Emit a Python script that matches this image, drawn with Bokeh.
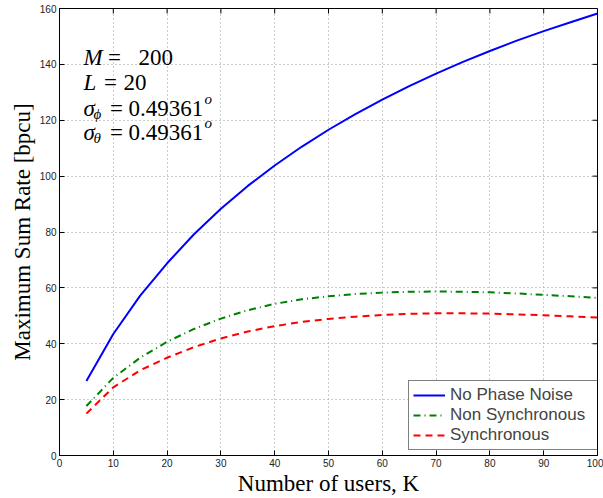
from math import pi
from bokeh.plotting import figure
from bokeh.models import (Label, Legend, LegendItem, FixedTicker,
                          ColumnDataSource, Range1d)
from bokeh.embed import file_html
from bokeh.resources import INLINE

# ---------------- data ----------------
users_k = [5, 10, 15, 20, 25, 30, 35, 40, 45, 50,
           55, 60, 65, 70, 75, 80, 85, 90, 95, 100]
no_phase_noise = [26.7, 43.5, 57.2, 68.8, 79.2, 88.3, 96.5, 103.8, 110.5, 116.6,
                  122.2, 127.4, 132.2, 136.7, 140.9, 144.8, 148.5, 151.9, 155.1, 158.2]
non_synchronous = [17.7, 27.8, 35.0, 40.7, 45.3, 49.0, 52.0, 54.3, 55.9, 57.0,
                   57.8, 58.3, 58.6, 58.7, 58.6, 58.4, 58.0, 57.5, 57.0, 56.4]
synchronous = [15.0, 24.4, 30.5, 35.0, 38.8, 41.9, 44.4, 46.3, 47.8, 48.9,
               49.7, 50.3, 50.7, 50.9, 50.9, 50.8, 50.5, 50.2, 49.8, 49.4]
series_labels = ["No Phase Noise", "Non Synchronous", "Synchronous"]
x_ticks = [0, 10, 20, 30, 40, 50, 60, 70, 80, 90, 100]
y_ticks = [0, 20, 40, 60, 80, 100, 120, 140, 160]
x_title = "Number of users, K"
y_title = "Maximum Sum Rate [bpcu]"

src = ColumnDataSource(dict(k=users_k, a=no_phase_noise, b=non_synchronous, c=synchronous))

FL, FB = 59, 456  # frame left / bottom in canvas px

p = figure(width=603, height=498, x_range=Range1d(0, 100), y_range=Range1d(0, 160),
           output_backend="svg", toolbar_location=None,
           min_border_left=FL, min_border_right=6, min_border_top=8, min_border_bottom=42)
p.background_fill_color = "white"
p.border_fill_color = "white"
p.outline_line_color = "black"

for ax, ticks in ((p.xaxis[0], x_ticks), (p.yaxis[0], y_ticks)):
    ax.ticker = FixedTicker(ticks=ticks)
    ax.major_tick_in = 5
    ax.major_tick_out = 0
    ax.minor_tick_line_color = None
    ax.axis_line_color = "black"
    ax.major_tick_line_color = "black"
    ax.major_label_text_font = "Liberation Sans"
    ax.major_label_text_font_size = "10px"
    ax.major_label_text_color = "#222222"
    ax.major_label_standoff = 3
    ax.axis_label_text_font = "Liberation Serif"
    ax.axis_label_text_font_size = "23px"
    ax.axis_label_text_font_style = "normal"
    ax.axis_label_text_color = "black"

p.xaxis.axis_label = x_title
p.yaxis.axis_label = y_title
p.xaxis.axis_label_standoff = 1
p.yaxis.axis_label_standoff = 2

p.xgrid.ticker = FixedTicker(ticks=x_ticks)
p.ygrid.ticker = FixedTicker(ticks=y_ticks)
for g in (p.xgrid[0], p.ygrid[0]):
    g.grid_line_color = "#9a9a9a"
    g.grid_line_dash = "1 3"
    g.grid_line_width = 1

# tick marks on the right and top edges (half of each dash is clipped by the frame)
p.scatter(x=[x_ticks[-1]] * len(y_ticks), y=y_ticks, marker="dash", size=10,
          line_color="black", line_width=1)
p.scatter(x=x_ticks, y=[y_ticks[-1]] * len(x_ticks), marker="dash", size=10, angle=pi / 2,
          line_color="black", line_width=1)

r1 = p.line("k", "a", source=src, line_color="#0000ff", line_width=2)
r2 = p.line("k", "b", source=src, line_color="#008000", line_width=2, line_dash="7 4 1 4")
r3 = p.line("k", "c", source=src, line_color="#ff0000", line_width=2, line_dash="7 5")

legend = Legend(items=[LegendItem(label=series_labels[0], renderers=[r1]),
                       LegendItem(label=series_labels[1], renderers=[r2]),
                       LegendItem(label=series_labels[2], renderers=[r3])],
                location=(349, 5), border_line_color="black", border_line_width=1,
                background_fill_color="white", background_fill_alpha=1.0,
                label_text_font="Liberation Sans", label_text_font_size="17px",
                glyph_width=32, glyph_height=20, label_height=20, label_width=145,
                spacing=0, padding=4, margin=0, label_standoff=5)
p.add_layout(legend)


def txt(s, px, py, size=23, style="normal", align="left"):
    p.add_layout(Label(x=px - FL, y=FB - py, x_units="screen", y_units="screen",
                       text=s, text_font="Liberation Serif", text_font_size=f"{size}px",
                       text_font_style=style, text_align=align,
                       text_baseline="alphabetic", text_color="black"))


# annotation block
txt("M", 83, 58, style="italic"); txt("=", 114, 58, align="center"); txt("200", 138, 58)
txt("L", 83, 83, style="italic"); txt("=", 110, 83, align="center"); txt("20", 123, 83)
txt("σ", 83, 109, style="italic"); txt("ϕ", 93, 114, size=15, style="italic")
txt("=", 116, 109, align="center"); txt("0.49361", 128, 109)
txt("o", 204, 99, size=15, style="italic")
txt("σ", 83, 133, style="italic"); txt("θ", 93, 138, size=15, style="italic")
txt("=", 116, 133, align="center"); txt("0.49361", 128, 133)
txt("o", 204, 123, size=15, style="italic")

open("out.html", "w").write(file_html(p, INLINE))
